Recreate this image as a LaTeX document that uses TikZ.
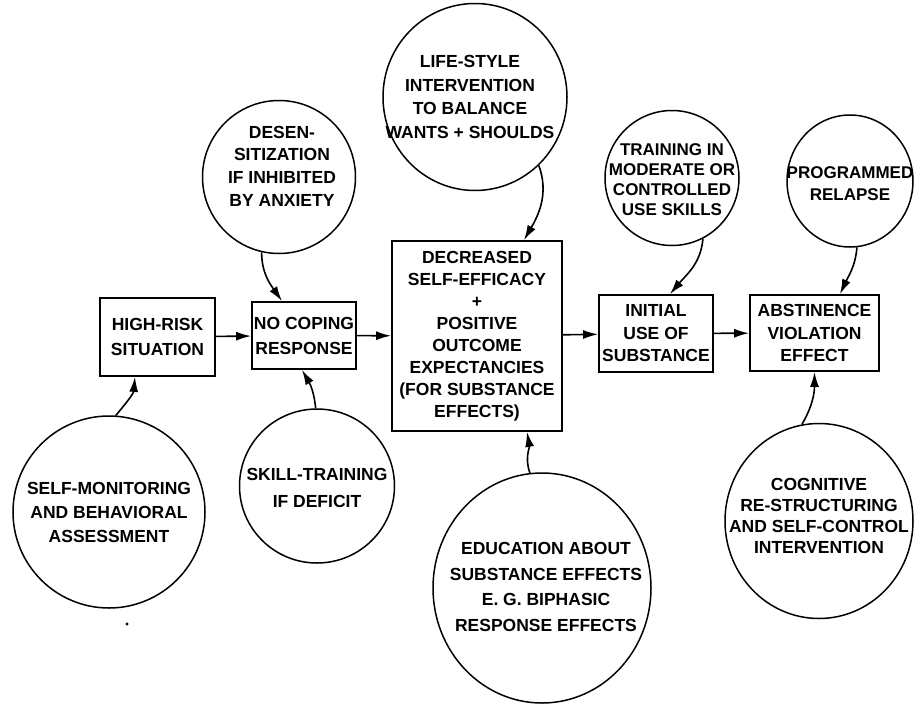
\documentclass[tikz,border=0pt]{standalone}
\usepackage{fontspec}
\setmainfont{Liberation Sans}
\usepackage{tikz}
\usetikzlibrary{shapes.geometric, arrows.meta}
\tikzstyle{arrow} = [line width=1.6pt,-{Latex[length=15pt,width=9pt]}]

\begin{document}
\begin{tikzpicture}[
    x=1pt, y=-1pt,
    txt/.style 2 args={align=center, inner sep=0pt, font=\fontsize{#1}{#2}\selectfont\bfseries},
    box/.style={draw, line width=1.8pt, minimum width=#1},
    bubble/.style={ellipse, draw, line width=1.5pt, inner sep=0pt},
  ]
  \useasboundingbox (0,0) rectangle (924,707);

  % main chain
  \node[box=115, minimum height=78, txt={17.5}{25}] (high) at (157.5,337) {HIGH-RISK\\SITUATION};
  \node[box=104, minimum height=67, txt={17.5}{25}] (nocope) at (304,335.5) {NO COPING\\RESPONSE};
  \node[box=170, minimum height=190, txt={17.5}{22}] (central) at (477,336) {DECREASED\\SELF-EFFICACY\\+\\POSITIVE\\OUTCOME\\EXPECTANCIES\\(FOR SUBSTANCE\\EFFECTS)};
  \node[box=114, minimum height=77, txt={17.5}{22.5}] (initial) at (656,333.5) {INITIAL\\USE OF\\SUBSTANCE};
  \node[box=129, minimum height=76, txt={17.5}{22.5}] (abst) at (814.5,333) {ABSTINENCE\\VIOLATION\\EFFECT};

  % interventions above
  \node[bubble, minimum width=153, minimum height=153] (desen) at (279,177) {};
  \node[txt={17.5}{22.7}] (desenTxt) at (282,166) {DESEN-\\SITIZATION\\IF INHIBITED\\BY ANXIETY};
  \node[bubble, minimum width=184, minimum height=187] (life) at (475,97) {};
  \node[txt={17.5}{23.7}] (lifeTxt) at (470,97) {LIFE-STYLE\\INTERVENTION\\TO BALANCE\\WANTS + SHOULDS};
  \node[bubble, minimum width=134, minimum height=135] (train) at (672,178) {};
  \node[txt={17}{20}] (trainTxt) at (672,180) {TRAINING IN\\MODERATE OR\\CONTROLLED\\USE SKILLS};
  \node[bubble, minimum width=126, minimum height=132] (prog) at (850,181) {};
  \node[txt={17}{22}] (progTxt) at (850,184) {PROGRAMMED\\RELAPSE};

  % interventions below
  \node[bubble, minimum width=192, minimum height=192] (selfmon) at (109,512) {};
  \node[txt={17.5}{24}] (selfmonTxt) at (109,512) {SELF-MONITORING\\AND BEHAVIORAL\\ASSESSMENT};
  \node[bubble, minimum width=155, minimum height=154] (skill) at (317,486) {};
  \node[txt={17.5}{27}] (skillTxt) at (317,488) {SKILL-TRAINING\\IF DEFICIT};
  \node[bubble, minimum width=218, minimum height=230] (edu) at (542,588) {};
  \node[txt={17.5}{25.7}] (eduTxt) at (546,587) {EDUCATION ABOUT\\SUBSTANCE EFFECTS\\E. G. BIPHASIC\\RESPONSE EFFECTS};
  \node[bubble, minimum width=188, minimum height=195] (cog) at (819,521) {};
  \node[txt={17.5}{20.7}] (cogTxt) at (819,516) {COGNITIVE\\RE-STRUCTURING\\AND SELF-CONTROL\\INTERVENTION};

  \fill (127,624) circle (1.6);

  % chain arrows
  \draw[arrow] (high) -- (nocope);
  \draw[arrow] (nocope) -- (central);
  \draw[arrow] (central) -- (initial);
  \draw[arrow] (initial) -- (abst);

  % from the circles
  \draw[arrow] (desen.-103) to[out=-90, in=125] ([xshift=-22]nocope.north);
  \draw[arrow] (life.-47) to[out=-70, in=60] ([xshift=47]central.north);
  \draw[arrow] (train.-63) to[out=-95, in=50] ([xshift=14]initial.north);
  \draw[arrow] (prog.-84) to[out=-95, in=65] ([xshift=25.5]abst.north);
  \draw[arrow] (selfmon.86) to[out=50, in=-95] ([xshift=-22.5]high.south);
  \draw[arrow] (skill.91) to[out=95, in=-60] ([xshift=-2]nocope.south);
  \draw[arrow] (edu.96) to[out=110, in=-80] ([xshift=50]central.south);
  \draw[arrow] (cog.100) to[out=60, in=-90] (abst.south);
\end{tikzpicture}
\end{document}
